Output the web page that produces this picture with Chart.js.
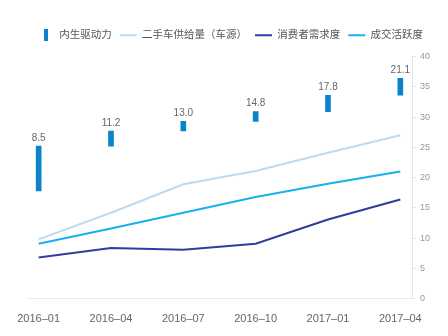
<!DOCTYPE html>
<html>
<head>
<meta charset="utf-8">
<script src="https://cdn.jsdelivr.net/npm/chart.js@4/dist/chart.umd.min.js"></script>
<style>
  html, body { margin: 0; padding: 0; background: #fff; }
  #wrap { width: 448px; height: 336px; }
</style>
</head>
<body>
<div id="wrap"><canvas id="c"></canvas></div>
<script>
// data
const categories = ['2016–01', '2016–04', '2016–07', '2016–10', '2017–01', '2017–04'];
const driveLow = [17.8, 25.2, 27.7, 29.3, 30.9, 33.6];
const driveHigh = [25.2, 27.7, 29.3, 30.9, 33.6, 36.4];
const driveLabels = ['8.5', '11.2', '13.0', '14.8', '17.8', '21.1'];
const supply = [9.8, 14.2, 18.9, 21.1, 24.1, 27.0];
const demand = [6.8, 8.4, 8.1, 9.1, 13.1, 16.4];
const activity = [9.1, 11.6, 14.2, 16.8, 19.0, 21.0];

const FONT = '"Liberation Sans", "Noto Sans CJK SC", sans-serif';

// little vertical bar used as the legend marker of the floating bars
const barMark = document.createElement('canvas');
barMark.width = 4; barMark.height = 12;
const bctx = barMark.getContext('2d');
bctx.fillStyle = '#0b82cc';
bctx.fillRect(0, 0, 4, 12);

const pts = (arr) => arr.map((v, i) => ({ x: i, y: v }));

const barLabels = {
  id: 'barLabels',
  afterDatasetsDraw(chart) {
    const meta = chart.getDatasetMeta(0);
    const ctx = chart.ctx;
    ctx.save();
    ctx.font = '10px ' + FONT;
    ctx.fillStyle = '#666';
    ctx.textAlign = 'center';
    ctx.textBaseline = 'bottom';
    meta.data.forEach((el, i) => {
      ctx.fillText(driveLabels[i], el.x, el.y - 3);
    });
    ctx.restore();
  }
};

// extra room under the legend
const legendGap = {
  id: 'legendGap',
  beforeInit(chart) {
    const fit = chart.legend.fit;
    chart.legend.fit = function () {
      fit.call(this);
      this.height += 6;
    };
  }
};

new Chart(document.getElementById('c'), {
  type: 'bar',
  data: {
    datasets: [
      {
        label: '内生驱动力',
        data: categories.map((_, i) => ({ x: i, y: [driveLow[i], driveHigh[i]] })),
        backgroundColor: '#0b82cc',
        barThickness: 5,
        pointStyle: barMark
      },
      {
        type: 'line',
        label: '二手车供给量（车源）',
        data: pts(supply),
        borderColor: '#bcdaf2',
        backgroundColor: '#bcdaf2',
        borderWidth: 2,
        pointRadius: 0,
        pointStyle: 'line'
      },
      {
        type: 'line',
        label: '消费者需求度',
        data: pts(demand),
        borderColor: '#2f3d9f',
        backgroundColor: '#2f3d9f',
        borderWidth: 2,
        pointRadius: 0,
        pointStyle: 'line'
      },
      {
        type: 'line',
        label: '成交活跃度',
        data: pts(activity),
        borderColor: '#16b2ee',
        backgroundColor: '#16b2ee',
        borderWidth: 2,
        pointRadius: 0,
        pointStyle: 'line'
      }
    ]
  },
  options: {
    responsive: true,
    maintainAspectRatio: false,
    animation: false,
    layout: { padding: { top: 22, left: 26, right: 14, bottom: 4 } },
    plugins: {
      tooltip: { enabled: false },
      legend: {
        position: 'top',
        labels: {
          usePointStyle: true,
          pointStyleWidth: 17,
          padding: 8,
          color: '#555',
          font: { family: FONT, size: 10.5 }
        }
      }
    },
    scales: {
      x: {
        type: 'linear',
        offset: false,
        min: -0.175,
        max: 5.175,
        afterBuildTicks: (scale) => {
          scale.ticks = categories.map((_, i) => ({ value: i }));
        },
        ticks: {
          autoSkip: false,
          maxRotation: 0,
          color: '#666',
          font: { family: FONT, size: 11 },
          padding: 6,
          callback: (v) => categories[v]
        },
        grid: { display: false },
        border: { color: '#ececec', width: 1 }
      },
      y: {
        position: 'right',
        min: 0,
        max: 40,
        ticks: {
          stepSize: 5,
          color: '#999',
          font: { family: FONT, size: 9 },
          padding: 4
        },
        grid: { drawOnChartArea: false, tickLength: 3, color: '#e6e6e6' },
        border: { color: '#e6e6e6' }
      }
    }
  },
  plugins: [barLabels, legendGap]
});
</script>
</body>
</html>
